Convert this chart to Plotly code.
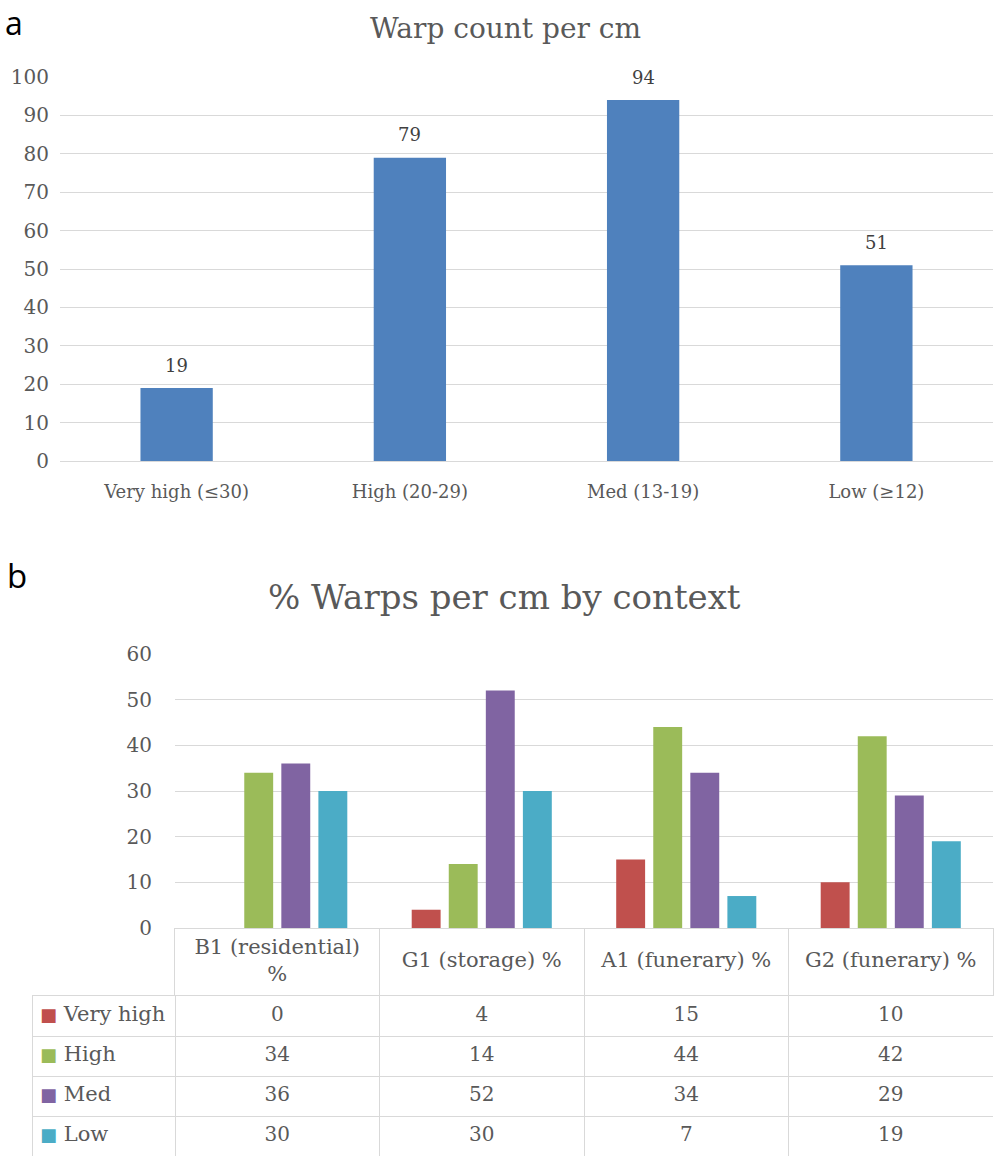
import plotly.graph_objects as go

# ---------------- data ----------------
warp_categories = ["Very high (≤30)", "High (20-29)", "Med (13-19)", "Low (≥12)"]
warp_counts = [19, 79, 94, 51]

contexts = ["B1 (residential) %", "G1 (storage) %", "A1 (funerary) %", "G2 (funerary) %"]
context_headers = ["B1 (residential)<br>%", "G1 (storage) %", "A1 (funerary) %", "G2 (funerary) %"]
series_names = ["Very high", "High", "Med", "Low"]
very_high = [0, 4, 15, 10]
high = [34, 14, 44, 42]
med = [36, 52, 34, 29]
low = [30, 30, 7, 19]
series_colors = ["#C0504D", "#9BBB59", "#8064A2", "#4BACC6"]

top_title = "Warp count per cm"
bottom_title = "% Warps per cm by context"

# ---------------- layout helpers ----------------
W, H = 994, 1156
SERIF = "DejaVu Serif"
SANS = "Open Sans"
TXT = "#595959"
GRID = "#d9d9d9"


def px_x(p):
    return p / W


def px_y(p):
    return 1 - p / H


fig = go.Figure()

# ---------- panel a: bar chart ----------
fig.add_trace(go.Bar(
    x=warp_categories, y=warp_counts, marker=dict(color="#4F81BD", line=dict(width=0)),
    width=0.31, xaxis="x", yaxis="y", showlegend=False))

for c, v in zip(warp_categories, warp_counts):
    fig.add_annotation(x=c, y=v, xref="x", yref="y", text=str(v), showarrow=False,
                       yshift=23, yanchor="middle",
                       font=dict(family=SERIF, size=18, color="#404040"))

# ---------- panel b: grouped bars ----------
series_values = [very_high, high, med, low]
for name, vals, col in zip(series_names, series_values, series_colors):
    fig.add_trace(go.Bar(
        x=contexts, y=vals, name=name, marker=dict(color=col, line=dict(width=0)),
        xaxis="x2", yaxis="y2", showlegend=False))

# ---------- data table under panel b ----------
fig.add_trace(go.Scatter(
    x=contexts, y=["hdr"] * len(contexts), mode="text", text=context_headers,
    textposition="middle center", textfont=dict(family=SERIF, size=21, color=TXT),
    xaxis="x3", yaxis="y3", showlegend=False, hoverinfo="skip"))

cell_x, cell_y, cell_t = [], [], []
for name, vals in zip(series_names, series_values):
    for ctx, v in zip(contexts, vals):
        cell_x.append(ctx)
        cell_y.append(name)
        cell_t.append(str(v))
fig.add_trace(go.Scatter(
    x=cell_x, y=cell_y, mode="text", text=cell_t, textposition="middle center",
    textfont=dict(family=SERIF, size=20, color=TXT),
    xaxis="x3", yaxis="y4", showlegend=False, hoverinfo="skip"))

row_labels = [f"<span style='color:{c};font-size:18px'>■</span> {n}"
              for n, c in zip(series_names, series_colors)]
fig.add_trace(go.Scatter(
    x=[0.05] * len(series_names), y=series_names, mode="text", text=row_labels,
    textposition="middle right", textfont=dict(family=SERIF, size=21, color=TXT),
    xaxis="x4", yaxis="y4", showlegend=False, hoverinfo="skip"))

HEADER_TOP, HEADER_BOTTOM, TABLE_BOTTOM = 928, 996, 1156
TABLE_LEFT, VALUES_LEFT, RIGHT = 33, 175, 993

hidden = dict(showticklabels=False, ticks="", fixedrange=True, automargin=False)

fig.update_layout(
    width=W, height=H,
    margin=dict(l=0, r=0, t=0, b=0, pad=0, autoexpand=False),
    paper_bgcolor="white", plot_bgcolor="white",
    barmode="group", bargap=0.275, bargroupgap=0.22,
    xaxis=dict(domain=[px_x(60), px_x(RIGHT)], anchor="y", automargin=False,
               showgrid=False, showline=True, linecolor=GRID, linewidth=1,
               ticks="", ticklabelstandoff=14,
               tickfont=dict(family=SERIF, size=18, color=TXT)),
    yaxis=dict(domain=[px_y(461), px_y(77)], anchor="x", range=[0, 100], automargin=False,
               dtick=10, showgrid=True, gridcolor=GRID, gridwidth=1, zeroline=False,
               showline=False, ticks="", ticklabelstandoff=10,
               tickfont=dict(family=SERIF, size=20, color=TXT)),
    xaxis2=dict(domain=[px_x(VALUES_LEFT), px_x(RIGHT)], anchor="y2",
                type="category", categoryarray=contexts,
                showgrid=False, showline=True, linecolor=GRID, linewidth=1, **hidden),
    yaxis2=dict(domain=[px_y(HEADER_TOP), px_y(654)], anchor="x2", range=[0, 60],
                automargin=False,
                dtick=10, showgrid=True, gridcolor=GRID, gridwidth=1, zeroline=False,
                showline=False, ticks="", ticklabelstandoff=22,
                tickfont=dict(family=SERIF, size=20, color=TXT)),
    xaxis3=dict(domain=[px_x(VALUES_LEFT), px_x(RIGHT)], anchor="y4", side="top",
                type="category", categoryarray=contexts, range=[-0.5, len(contexts) - 0.5],
                tickson="boundaries", showgrid=True, gridcolor=GRID, gridwidth=1,
                showline=True, linecolor=GRID, linewidth=1, **hidden),
    xaxis4=dict(domain=[px_x(TABLE_LEFT), px_x(VALUES_LEFT)], anchor="y4", side="top",
                range=[0, 1], showgrid=False, zeroline=False,
                showline=True, linecolor=GRID, linewidth=1, **hidden),
    yaxis3=dict(domain=[px_y(HEADER_BOTTOM), px_y(HEADER_TOP)], anchor="x3",
                type="category", categoryarray=["hdr"], range=[-0.5, 0.5],
                showgrid=False, showline=True, mirror=True, linecolor=GRID, linewidth=1,
                **hidden),
    yaxis4=dict(domain=[px_y(TABLE_BOTTOM), px_y(HEADER_BOTTOM)], anchor="x4",
                type="category", categoryarray=series_names,
                range=[len(series_names) - 0.5, -0.5],
                tickson="boundaries", showgrid=True, gridcolor=GRID, gridwidth=1,
                showline=True, mirror=True, linecolor=GRID, linewidth=1, **hidden),
)

fig.add_annotation(x=0.509, y=px_y(28), xref="paper", yref="paper", text=top_title,
                   showarrow=False, xanchor="center", yanchor="middle",
                   font=dict(family=SERIF, size=28, color=TXT))
fig.add_annotation(x=0.508, y=px_y(597), xref="paper", yref="paper", text=bottom_title,
                   showarrow=False, xanchor="center", yanchor="middle",
                   font=dict(family=SERIF, size=34, color=TXT))
fig.add_annotation(x=px_x(4), y=1, xref="paper", yref="paper", text="a",
                   showarrow=False, xanchor="left", yanchor="top", borderpad=0,
                   font=dict(family=SANS, size=32, color="black"))
fig.add_annotation(x=px_x(5), y=px_y(575), xref="paper", yref="paper", text="b",
                   showarrow=False, xanchor="left", yanchor="middle",
                   font=dict(family=SANS, size=33, color="black"))

fig.write_html("out.html", post_script="document.body.style.margin='0';",
               config={"displayModeBar": False})
